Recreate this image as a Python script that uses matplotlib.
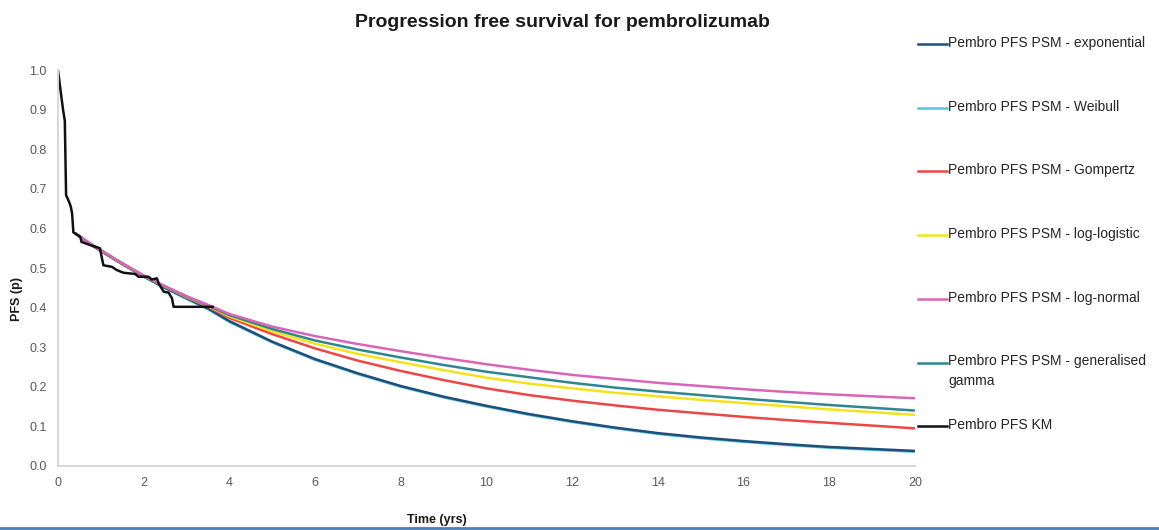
import matplotlib
matplotlib.use('Agg')
import matplotlib.pyplot as plt
from matplotlib.lines import Line2D

plt.rcParams['font.family'] = ['Liberation Sans', 'DejaVu Sans']

# Kaplan-Meier PFS for pembrolizumab
km_time = [0, 0.12, 0.16, 0.19, 0.26, 0.30, 0.33, 0.36, 0.52, 0.55, 0.75, 0.98, 1.06,
           1.26, 1.37, 1.53, 1.80, 1.88, 2.11, 2.19, 2.31, 2.35, 2.47, 2.58, 2.66, 2.70, 3.64]
km_pfs = [1.0, 0.899, 0.872, 0.684, 0.667, 0.655, 0.638, 0.590, 0.579, 0.566, 0.558, 0.550, 0.507,
          0.503, 0.495, 0.488, 0.485, 0.478, 0.478, 0.471, 0.474, 0.461, 0.440, 0.438, 0.424, 0.402, 0.402]

# parametric survival model extrapolations
fit_time = [0.4, 0.75, 1, 1.5, 2, 2.5, 3, 3.5, 4, 5, 6, 7, 8, 9, 10, 11, 12, 13, 14, 15, 16, 17, 18, 19, 20]
pfs_exponential = [0.588, 0.560, 0.543, 0.510, 0.479, 0.450, 0.424, 0.398, 0.366, 0.314, 0.270, 0.234,
                   0.202, 0.175, 0.152, 0.131, 0.113, 0.097, 0.083, 0.072, 0.063, 0.055, 0.048, 0.043, 0.038]
pfs_weibull = [0.588, 0.560, 0.543, 0.510, 0.478, 0.449, 0.422, 0.396, 0.364, 0.312, 0.268, 0.232,
               0.200, 0.173, 0.150, 0.129, 0.111, 0.095, 0.081, 0.070, 0.061, 0.053, 0.046, 0.041, 0.036]
pfs_gompertz = [0.588, 0.561, 0.544, 0.511, 0.480, 0.452, 0.426, 0.402, 0.374, 0.333, 0.297, 0.266,
                0.240, 0.217, 0.196, 0.179, 0.165, 0.153, 0.142, 0.133, 0.124, 0.116, 0.109, 0.102, 0.095]
pfs_loglogistic = [0.588, 0.562, 0.545, 0.512, 0.481, 0.453, 0.427, 0.404, 0.378, 0.340, 0.309, 0.283,
                   0.262, 0.242, 0.223, 0.208, 0.196, 0.185, 0.176, 0.167, 0.159, 0.151, 0.143, 0.136, 0.129]
pfs_lognormal = [0.588, 0.562, 0.545, 0.512, 0.481, 0.454, 0.429, 0.407, 0.384, 0.352, 0.328, 0.308,
                 0.290, 0.273, 0.257, 0.243, 0.230, 0.220, 0.210, 0.202, 0.194, 0.187, 0.181, 0.176, 0.171]
pfs_gengamma = [0.588, 0.562, 0.545, 0.512, 0.481, 0.453, 0.428, 0.405, 0.381, 0.346, 0.317, 0.294,
                0.274, 0.255, 0.238, 0.224, 0.210, 0.198, 0.188, 0.179, 0.170, 0.162, 0.154, 0.147, 0.140]

series = [
    ('Pembro PFS PSM - exponential', fit_time, pfs_exponential, '#1f4e79'),
    ('Pembro PFS PSM - Weibull', fit_time, pfs_weibull, '#5bc4dc'),
    ('Pembro PFS PSM - Gompertz', fit_time, pfs_gompertz, '#ec4646'),
    ('Pembro PFS PSM - log-logistic', fit_time, pfs_loglogistic, '#f3e31c'),
    ('Pembro PFS PSM - log-normal', fit_time, pfs_lognormal, '#d866b8'),
    ('Pembro PFS PSM - generalised\ngamma', fit_time, pfs_gengamma, '#2f8592'),
    ('Pembro PFS KM', km_time, km_pfs, '#111111'),
]

fig = plt.figure(figsize=(11.59, 5.30), dpi=100)
ax = fig.add_axes([0.05, 0.1208, 0.7394, 0.747])

# draw fits first, KM on top
draw_order = [1, 0, 2, 3, 5, 4, 6]
for i in draw_order:
    label, t, s, c = series[i]
    ax.plot(t, s, color=c, lw=1.8, solid_capstyle='butt')

ax.set_xlim(0, 20)
ax.set_ylim(0, 1.0)
ax.set_xticks(range(0, 21, 2))
ax.set_yticks([i / 10 for i in range(11)])
ax.set_yticklabels(['%.1f' % (i / 10) for i in range(11)])
ax.tick_params(length=0, labelsize=9, colors='#595959', pad=8)
for side in ['top', 'right']:
    ax.spines[side].set_visible(False)
for side in ['left', 'bottom']:
    ax.spines[side].set_color('#d9d9d9')
    ax.spines[side].set_linewidth(1.5)

fig.text(0.485, 0.958, 'Progression free survival for pembrolizumab', ha='center', va='center',
         fontsize=14, fontweight='bold', color='#1a1a1a')
fig.text(0.015, 0.435, 'PFS (p)', rotation=90, ha='center', va='center',
         fontsize=9, fontweight='bold', color='#1a1a1a')
fig.text(0.377, 0.018, 'Time (yrs)', ha='center', va='center',
         fontsize=9, fontweight='bold', color='#1a1a1a')

# legend down the right-hand side
for k, (label, t, s, c) in enumerate(series):
    y = 1 - (44 + k * 63.7) / 530
    fig.add_artist(Line2D([918 / 1159, 947 / 1159], [y, y], color=c, lw=1.8))
    fig.text(948 / 1159, y + 8 / 530, label, ha='left', va='top',
             fontsize=10, color='#262626', linespacing=1.5)

# blue frame edge along the bottom
fig.add_artist(Line2D([0, 1], [2.5 / 530, 2.5 / 530], color='#4a7ebb', lw=2))

fig.savefig('out.png', dpi=100)
